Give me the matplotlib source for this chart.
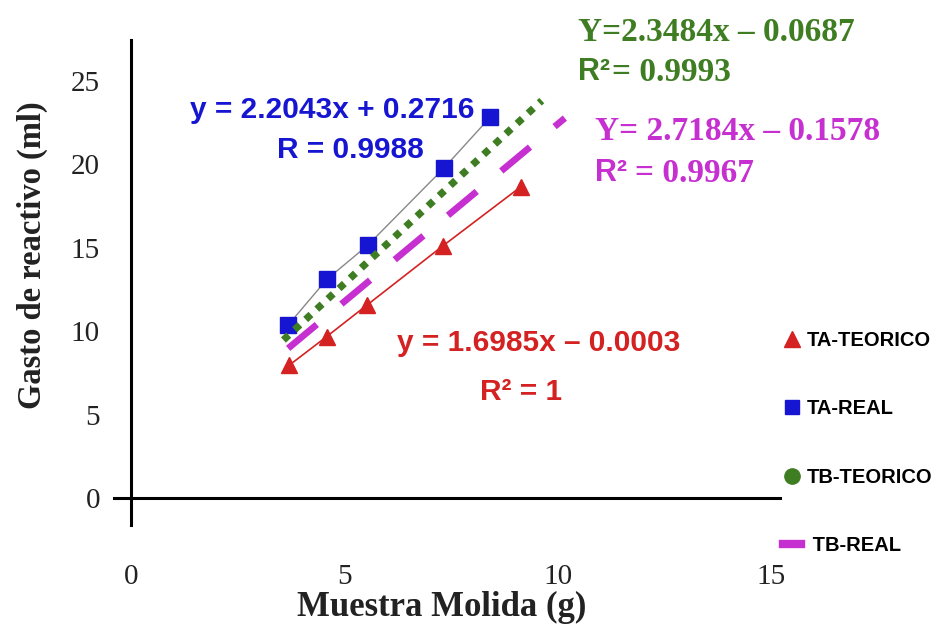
import matplotlib
matplotlib.use("Agg")
import matplotlib.pyplot as plt
from matplotlib.lines import Line2D

# data
ta_teo_x = [3.71, 4.58, 5.53, 7.30, 9.13]
ta_teo_y = [7.96, 9.66, 11.56, 15.09, 18.64]
ta_real_x = [3.68, 4.59, 5.55, 7.33, 8.41]
ta_real_y = [10.36, 13.10, 15.15, 19.76, 22.80]
tb_teo_x = [3.57, 9.62]
tb_teo_y = [9.46, 23.80]
tb_real_x = [3.68, 10.16]
tb_real_y = [8.96, 22.75]

x_ticks = [0, 5, 10, 15]
y_ticks = [0, 5, 10, 15, 20, 25]
labels = ["TA-TEORICO", "TA-REAL", "TB-TEORICO", " TB-REAL"]

red = "#d42222"
blue = "#1616d2"
green = "#3e7d22"
magenta = "#c62fd0"
sans = "Liberation Sans"
serif = "Liberation Serif"

fig = plt.figure(figsize=(9.46, 6.24), dpi=100)
ax = fig.add_axes([0.1159, 0.1056, 0.7222, 0.8349])
ax.set_xlim(-0.5, 15.5)
ax.set_ylim(-3.6, 27.6)
for s in ax.spines.values():
    s.set_visible(False)

# axis lines crossing at origin
ax.plot([0, 0], [-1.6, 27.4], color="black", lw=2.2, clip_on=False)
ax.plot([-0.4, 15.2], [0, 0], color="black", lw=2.2, clip_on=False)

ax.set_xticks(x_ticks)
ax.set_yticks(y_ticks)
ax.tick_params(length=0, labelsize=21, colors="#222222")
ax.tick_params(axis="x", pad=4)
ax.tick_params(axis="y", pad=7)
for t in ax.get_xticklabels() + ax.get_yticklabels():
    t.set_family(serif)

# series
ax.plot(ta_real_x, ta_real_y, color="#888888", lw=1.0, marker="s", ms=12,
        mfc=blue, mec=blue, zorder=3)
ax.plot(tb_teo_x, tb_teo_y, color=green, lw=5.2, ls=(0, (1, 1.1)), zorder=4)
ax.plot(tb_real_x, tb_real_y, color=magenta, lw=4.8, ls=(0, (5.6, 4.8)), zorder=4)
ax.plot(ta_teo_x, ta_teo_y, color=red, lw=1.2, marker="^", ms=11,
        mfc=red, mec=red, zorder=3)

# equations
ax.text(1.38, 23.23, "y = 2.2043x + 0.2716", color=blue, family=sans,
        weight="bold", fontsize=21.5, va="center")
ax.text(3.42, 20.84, "R = 0.9988", color=blue, family=sans,
        weight="bold", fontsize=21.5, va="center")
ax.text(6.23, 9.28, "y = 1.6985x \u2013 0.0003", color=red, family=sans,
        weight="bold", fontsize=21.5, va="center")
ax.text(8.17, 6.35, "R\u00b2 = 1", color=red, family=sans,
        weight="bold", fontsize=21.5, va="center")
ax.text(10.47, 27.9, "Y=2.3484x \u2013 0.0687", color=green, family=serif,
        weight="bold", fontsize=24, va="center")
ax.text(10.47, 25.5, "R\u00b2", color=green, family=sans,
        weight="bold", fontsize=22, va="center")
ax.text(11.26, 25.5, "= 0.9993", color=green, family=serif,
        weight="bold", fontsize=24, va="center")
ax.text(10.87, 21.92, "Y= 2.7184x \u2013 0.1578", color=magenta, family=serif,
        weight="bold", fontsize=24, va="center")
ax.text(10.87, 19.46, "R\u00b2", color=magenta, family=sans,
        weight="bold", fontsize=22, va="center")
ax.text(11.8, 19.46, "= 0.9967", color=magenta, family=serif,
        weight="bold", fontsize=24, va="center")

# axis titles
fig.text(442 / 946, 1 - 607 / 624, "Muestra Molida (g)", family=serif,
         weight="bold", fontsize=25, ha="center", va="center", color="#222222")
fig.text(32 / 946, 1 - 255 / 624, "Gasto de reactivo (ml)", family=serif,
         weight="bold", fontsize=23.5, ha="center", va="center",
         rotation=90, color="#222222")

# legend
handles = [
    Line2D([], [], ls="none", marker="^", ms=11, color=red),
    Line2D([], [], ls="none", marker="s", ms=10, color=blue),
    Line2D([], [], ls="none", marker="o", ms=11, color=green),
    Line2D([], [], color=magenta, lw=6),
]
leg = fig.legend(handles, labels, loc="upper left",
                 bbox_to_anchor=(783 / 946, 1 - 331 / 624), frameon=False,
                 borderpad=0, borderaxespad=0, handlelength=0.9,
                 handletextpad=0.3, labelspacing=2.45,
                 prop={"family": sans, "weight": "bold", "size": 14.5})

fig.savefig("out.png", dpi=100)
